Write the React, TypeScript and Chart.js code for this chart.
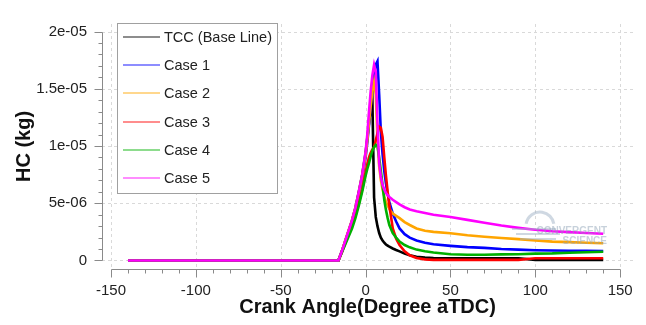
import React, { useEffect, useRef } from "react";
import { Chart, registerables } from "chart.js";
Chart.register(...registerables);

// Crank angle (degree aTDC)
const angles = [
  -140, -16, -14, -12, -10, -8, -6, -4, -2, 0,
  1, 2, 3, 4, 5, 6, 7, 8, 9, 10,
  11, 12, 13, 14, 16, 18, 20, 23, 26, 30,
  35, 40, 50, 60, 70, 80, 90, 100, 110, 120,
  130, 140,
];

// HC mass in units of 1e-6 kg
const tccBaseLine = [
  0, 0, 0.8, 1.7, 2.6, 3.5, 4.6, 6.0, 7.5, 9.4,
  10.7, 12.0, 13.2, 14.0, 5.5, 3.8, 3.0, 2.4, 2.0, 1.75,
  1.55, 1.4, 1.3, 1.2, 1.05, 0.92, 0.8, 0.6, 0.45, 0.33,
  0.26, 0.22, 0.2, 0.2, 0.2, 0.2, 0.2, 0.05, 0.05, 0.05,
  0.05, 0.05,
];
const case1 = [
  0, 0, 0.8, 1.6, 2.5, 3.4, 4.5, 5.8, 7.2, 9.0,
  10.3, 11.8, 13.4, 15.0, 16.3, 17.1, 17.4, 14.5, 11.2, 9.3,
  7.8, 6.7, 5.8, 5.1, 4.1, 3.4, 2.8, 2.3, 2.0, 1.75,
  1.55, 1.42, 1.28, 1.17, 1.1, 1.0, 0.95, 0.9, 0.87, 0.85,
  0.84, 0.83,
];
const case2 = [
  0, 0, 0.8, 1.7, 2.6, 3.5, 4.6, 5.9, 7.4, 9.2,
  10.5, 12.0, 13.5, 14.8, 15.6, 14.5, 10.5, 8.2, 7.0, 6.2,
  5.6, 5.1, 4.8, 4.5, 4.1, 3.9, 3.7, 3.35, 3.1, 2.8,
  2.6, 2.5, 2.38, 2.2, 2.07, 1.97, 1.87, 1.75, 1.65, 1.6,
  1.55, 1.5,
];
const case3 = [
  0, 0, 0.7, 1.5, 2.3, 3.0, 3.9, 5.0, 6.2, 7.7,
  8.4, 9.0, 9.4, 9.7, 9.9, 10.5, 11.1, 11.7, 11.6, 10.8,
  9.0, 7.4, 6.0, 4.8, 2.8, 1.9, 1.35, 0.8, 0.45, 0.22,
  0.1, 0.05, 0.05, 0.05, 0.05, 0.05, 0.05, 0.2, 0.2, 0.2,
  0.2, 0.2,
];
const case4 = [
  0, 0, 0.7, 1.4, 2.1, 2.8, 3.7, 4.8, 6.0, 7.4,
  8.0, 8.5, 9.1, 9.6, 9.9, 10.1, 10.0, 9.0, 7.8, 6.6,
  5.3, 4.4, 3.7, 3.1, 2.4, 2.0, 1.65, 1.35, 1.15, 0.95,
  0.8, 0.7, 0.55, 0.5, 0.5, 0.53, 0.55, 0.6, 0.62, 0.68,
  0.72, 0.76,
];
const case5 = [
  0, 0, 0.8, 1.7, 2.6, 3.5, 4.6, 6.0, 7.5, 9.5,
  11.0, 13.0, 14.8, 16.2, 17.1, 16.5, 12.0, 8.5, 7.3, 6.6,
  6.2, 5.9, 5.7, 5.55, 5.3, 5.1, 4.9, 4.65, 4.45, 4.3,
  4.15, 4.0, 3.8, 3.55, 3.3, 3.05, 2.85, 2.68, 2.56, 2.48,
  2.4, 2.33,
];

const seriesNames = ["TCC (Base Line)", "Case 1", "Case 2", "Case 3", "Case 4", "Case 5"];
const seriesValues = [tccBaseLine, case1, case2, case3, case4, case5];
const seriesColors = ["#000000", "#0000ff", "#ffa500", "#ff0000", "#00b000", "#ff00ff"];

const xTicks = [-150, -100, -50, 0, 50, 100, 150];
const xTickLabels = ["-150", "-100", "-50", "0", "50", "100", "150"];
const yTicks = [0, 5, 10, 15, 20];
const yTickLabels = ["0", "5e-06", "1e-05", "1.5e-05", "2e-05"];
const xMinorStep = 10;
const yMinorStep = 1;

const FONT = '"Liberation Sans", Arial, sans-serif';

const decorPlugin = {
  id: "decor",
  beforeDatasetsDraw(chart: any) {
    const { ctx, chartArea: a, scales } = chart;
    const x = scales.x;
    const y = scales.y;
    ctx.save();
    // dashed grid
    ctx.strokeStyle = "#d9d9d9";
    ctx.lineWidth = 1;
    ctx.setLineDash([3, 3]);
    for (const v of xTicks) {
      const px = Math.round(x.getPixelForValue(v)) + 0.5;
      ctx.beginPath();
      ctx.moveTo(px, a.top);
      ctx.lineTo(px, a.bottom);
      ctx.stroke();
    }
    for (const v of yTicks) {
      const py = Math.round(y.getPixelForValue(v)) + 0.5;
      ctx.beginPath();
      ctx.moveTo(a.left, py);
      ctx.lineTo(a.right, py);
      ctx.stroke();
    }
    ctx.setLineDash([]);
    // offset axes
    ctx.strokeStyle = "#8a8a8a";
    const ax = Math.round(a.left) + 0.5;
    const y0 = Math.round(y.getPixelForValue(yTicks[0])) + 0.5;
    const y1 = Math.round(y.getPixelForValue(yTicks[yTicks.length - 1])) + 0.5;
    ctx.beginPath();
    ctx.moveTo(ax, y0);
    ctx.lineTo(ax, y1);
    for (let v = yTicks[0]; v <= yTicks[yTicks.length - 1] + 1e-9; v += yMinorStep) {
      const py = Math.round(y.getPixelForValue(v)) + 0.5;
      const major = yTicks.includes(v);
      ctx.moveTo(ax, py);
      ctx.lineTo(ax - (major ? 8 : 4), py);
    }
    ctx.stroke();
    const ay = Math.round(a.bottom) + 0.5;
    const x0 = Math.round(x.getPixelForValue(xTicks[0])) + 0.5;
    const x1 = Math.round(x.getPixelForValue(xTicks[xTicks.length - 1])) + 0.5;
    ctx.beginPath();
    ctx.moveTo(x0, ay);
    ctx.lineTo(x1, ay);
    for (let v = xTicks[0]; v <= xTicks[xTicks.length - 1] + 1e-9; v += xMinorStep) {
      const px = Math.round(x.getPixelForValue(v)) + 0.5;
      const major = xTicks.includes(v);
      ctx.moveTo(px, ay);
      ctx.lineTo(px, ay + (major ? 8 : 4));
    }
    ctx.stroke();
    ctx.restore();
  },
  afterDatasetsDraw(chart: any) {
    // watermark
    const { ctx } = chart;
    ctx.save();
    ctx.globalAlpha = 0.5;
    ctx.strokeStyle = "#9fb2c6";
    ctx.lineWidth = 3;
    ctx.beginPath();
    ctx.arc(540, 226, 14, Math.PI * 1.05, Math.PI * 1.95);
    ctx.stroke();
    ctx.lineWidth = 2;
    ctx.beginPath();
    ctx.moveTo(512, 229);
    ctx.lineTo(556, 229);
    ctx.moveTo(516, 234);
    ctx.lineTo(560, 234);
    ctx.moveTo(520, 239);
    ctx.lineTo(556, 239);
    ctx.stroke();
    ctx.fillStyle = "#8fa3b8";
    ctx.font = `bold 10px ${FONT}`;
    ctx.textAlign = "right";
    ctx.textBaseline = "alphabetic";
    ctx.fillText("CONVERGENT", 607, 234);
    ctx.fillText("SCIENCE", 607, 244);
    ctx.restore();
  },
  afterDraw(chart: any) {
    // legend box
    const { ctx } = chart;
    ctx.save();
    const bx = 117.5, by = 23.5, bw = 160, bh = 170;
    ctx.fillStyle = "#ffffff";
    ctx.fillRect(bx, by, bw, bh);
    ctx.strokeStyle = "#a0a0a0";
    ctx.lineWidth = 1;
    ctx.strokeRect(bx, by, bw, bh);
    ctx.font = `14.5px ${FONT}`;
    ctx.textBaseline = "middle";
    ctx.textAlign = "left";
    seriesNames.forEach((name, i) => {
      const ry = Math.round(37 + i * 28.2);
      ctx.strokeStyle = seriesColors[i];
      ctx.globalAlpha = 0.6;
      ctx.lineWidth = 1.5;
      ctx.beginPath();
      ctx.moveTo(123, ry);
      ctx.lineTo(160, ry);
      ctx.stroke();
      ctx.globalAlpha = 1;
      ctx.fillStyle = "#222";
      ctx.fillText(name, 164, ry + 1);
    });
    ctx.restore();
  },
};

export default function App() {
  const ref = useRef<HTMLCanvasElement>(null);
  useEffect(() => {
    const datasets = seriesNames.map((name, i) => ({
      label: name,
      data: angles.map((a, j) => ({ x: a, y: seriesValues[i][j] })),
      borderColor: seriesColors[i],
      backgroundColor: seriesColors[i],
      borderWidth: 2.6,
      pointRadius: 0,
      tension: 0,
      fill: false,
      order: seriesNames.length - i,
    }));
    const chart = new Chart(ref.current!, {
      type: "line",
      data: { datasets },
      plugins: [decorPlugin],
      options: {
        animation: false,
        responsive: false,
        devicePixelRatio: 1,
        layout: { padding: { left: 0, right: 12, top: 10, bottom: 0 } },
        plugins: { legend: { display: false }, tooltip: { enabled: false } },
        scales: {
          x: {
            type: "linear",
            min: -155.3,
            max: 157.6,
            grid: { display: false, drawTicks: false },
            border: { display: false },
            afterBuildTicks: (s: any) => {
              s.ticks = xTicks.map((v) => ({ value: v }));
            },
            afterFit: (s: any) => {
              s.height = 56;
            },
            ticks: {
              autoSkip: false,
              maxRotation: 0,
              padding: 13,
              color: "#222",
              font: { family: FONT, size: 15 },
              callback: (_v: any, i: number) => xTickLabels[i],
            },
            title: {
              display: true,
              text: "Crank Angle(Degree aTDC)",
              color: "#111",
              font: { family: FONT, size: 20, weight: "bold" },
              padding: { top: 0, bottom: 6 },
            },
          },
          y: {
            type: "linear",
            min: -0.744,
            max: 20.66,
            grid: { display: false, drawTicks: false },
            border: { display: false },
            afterBuildTicks: (s: any) => {
              s.ticks = yTicks.map((v) => ({ value: v }));
            },
            afterFit: (s: any) => {
              s.width = 102;
            },
            ticks: {
              autoSkip: false,
              padding: 15,
              color: "#222",
              font: { family: FONT, size: 15 },
              callback: (_v: any, i: number) => yTickLabels[i],
            },
            title: {
              display: true,
              text: "HC (kg)",
              color: "#111",
              font: { family: FONT, size: 20, weight: "bold" },
              padding: { top: 12, bottom: 0 },
            },
          },
        },
      } as any,
    });
    return () => chart.destroy();
  }, []);
  return (
    <div style={{ position: "fixed", left: 0, top: 0, width: 646, height: 325, background: "#fff" }}>
      <canvas ref={ref} width={646} height={325} style={{ display: "block", width: 646, height: 325 }} />
    </div>
  );
}
